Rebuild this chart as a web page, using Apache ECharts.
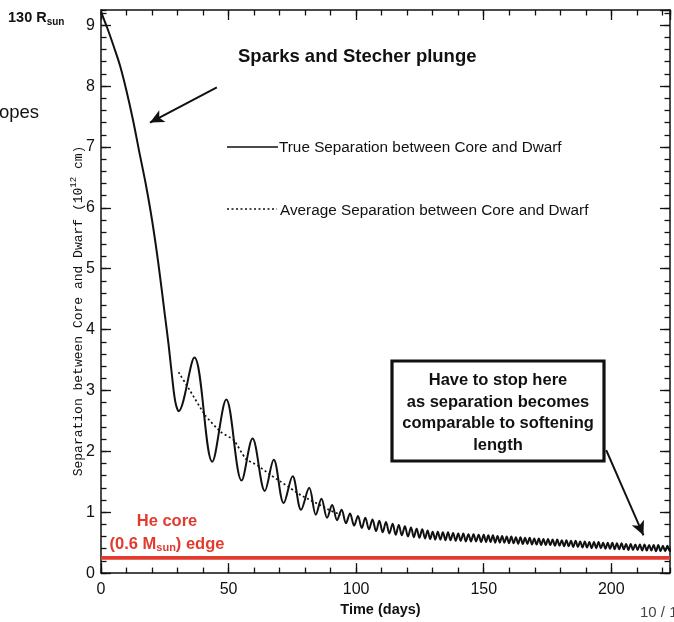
<!DOCTYPE html>
<html><head><meta charset="utf-8">
<script src="https://cdn.jsdelivr.net/npm/echarts@6/dist/echarts.min.js"></script>
<style>html,body{margin:0;padding:0;background:#fff}#c{width:674px;height:622px}</style>
</head><body><div id="c"></div>
<script>
// ---- data ----
const xTickValues = [0, 50, 100, 150, 200];
const xTickLabels = ['0', '50', '100', '150', '200'];
const yTickValues = [0, 1, 2, 3, 4, 5, 6, 7, 8, 9];
const yTickLabels = ['0', '1', '2', '3', '4', '5', '6', '7', '8', '9'];

// True separation: initial plunge
const tDrop = [0, 2.5, 5, 7.5, 10, 12.5, 15, 17.5, 20, 22.5, 25, 26.5, 27.8, 29.1];
const vDrop = [9.22, 8.95, 8.65, 8.33, 7.92, 7.45, 6.92, 6.40, 5.80, 5.08, 4.25, 3.75, 3.25, 2.82];
// True separation: oscillation extrema (min / max)
const tWave = [30.4, 36.6, 43.6, 49.1, 55.1, 59.4, 64.2, 67.7, 71.6, 75.1, 78.4, 81.6, 84.2, 86.4, 88.6, 90.6, 92.5, 94.3, 96.0, 97.6, 99.2,
  100.7, 102.2, 103.6, 105.0, 106.4, 107.8, 109.1, 110.4, 111.7, 113.0, 114.3, 115.5, 116.7, 117.9, 119.1, 120.3, 121.5, 122.6, 123.7, 124.8, 125.9, 127.0, 128.0, 129.0, 130.0,
  131, 132, 133, 134, 135, 136, 137, 138, 139, 140, 141, 142, 143, 144, 145, 146, 147, 148, 149, 150];
const vWave = [2.66, 3.54, 1.83, 2.85, 1.52, 2.21, 1.35, 1.86, 1.15, 1.59, 1.04, 1.40, 0.96, 1.22, 0.91, 1.12, 0.87, 1.04, 0.82, 0.98, 0.78,
  0.94, 0.74, 0.91, 0.72, 0.88, 0.69, 0.86, 0.67, 0.84, 0.65, 0.81, 0.63, 0.79, 0.62, 0.77, 0.60, 0.75, 0.59, 0.73, 0.58, 0.72, 0.57, 0.70, 0.56, 0.68,
  0.55, 0.68, 0.55, 0.67, 0.54, 0.67, 0.54, 0.66, 0.53, 0.65, 0.53, 0.65, 0.52, 0.64, 0.52, 0.64, 0.52, 0.63, 0.51, 0.63];
// True separation: dense late oscillation
const tDense = [150.9, 151.8, 152.7, 153.6, 154.5, 155.4, 156.3, 157.2, 158.1, 159, 159.9, 160.8, 161.7, 162.6, 163.5, 164.4, 165.3, 166.2, 167.1, 168,
  168.9, 169.8, 170.7, 171.6, 172.5, 173.4, 174.3, 175.2, 176.1, 177, 177.9, 178.8, 179.7, 180.6, 181.5, 182.4, 183.3, 184.2, 185.1, 186,
  186.9, 187.8, 188.7, 189.6, 190.5, 191.4, 192.3, 193.2, 194.1, 195, 195.9, 196.8, 197.7, 198.6, 199.5, 200.4, 201.3, 202.2, 203.1, 204,
  204.9, 205.8, 206.7, 207.6, 208.5, 209.4, 210.3, 211.2, 212.1, 213, 213.9, 214.8, 215.7, 216.6, 217.5, 218.4, 219.3, 220.2, 221.1, 222, 222.9, 223.8];
const vDense = [0.51, 0.62, 0.51, 0.62, 0.50, 0.61, 0.50, 0.61, 0.50, 0.60, 0.49, 0.60, 0.49, 0.59, 0.48, 0.59, 0.48, 0.58, 0.48, 0.58,
  0.47, 0.57, 0.47, 0.57, 0.46, 0.56, 0.46, 0.56, 0.46, 0.55, 0.45, 0.55, 0.45, 0.54, 0.44, 0.54, 0.44, 0.53, 0.43, 0.53,
  0.43, 0.52, 0.42, 0.52, 0.42, 0.51, 0.41, 0.51, 0.41, 0.51, 0.41, 0.50, 0.40, 0.50, 0.40, 0.50, 0.39, 0.49, 0.39, 0.49,
  0.39, 0.48, 0.38, 0.48, 0.38, 0.47, 0.38, 0.47, 0.37, 0.47, 0.37, 0.46, 0.37, 0.46, 0.36, 0.46, 0.36, 0.45, 0.36, 0.45, 0.36, 0.45];

// Average separation (dotted)
const tAvg = [30.4, 35, 40.9, 46.9, 52.1, 56.7, 61.3, 66.5, 70.5, 74.4, 78.3, 82, 86.2, 90.2, 94];
const vAvg = [3.30, 2.99, 2.59, 2.32, 2.18, 1.88, 1.77, 1.61, 1.50, 1.39, 1.28, 1.20, 1.11, 1.02, 0.96];

// He core edge (red)
const tCore = [0, 223];
const vCore = [0.25, 0.25];

// annotation arrows (data coordinates: [day, separation])
const arrowPlunge = [[45.4, 7.98], [19.2, 7.40]];
const arrowStop = [[198.0, 2.02], [212.6, 0.62]];

// ---- chart ----
const X_MIN = 0, X_MAX = 223, Y_MIN = 0, Y_MAX = 9.25;
const INK = '#111';
const SANS = '"Liberation Sans", Arial, Helvetica, sans-serif';
const MONO = '"Liberation Mono", "Courier New", monospace';
const RED = '#e23b2e';

const pairs = (t, v) => t.map((x, i) => [x, v[i]]);
const trueData = pairs(tDrop.concat(tWave, tDense), vDrop.concat(vWave, vDense));

function xAx(interval, position, major) {
  return {
    type: 'value', min: X_MIN, max: X_MAX, interval: interval, position: position,
    axisLine: { show: major, onZero: false, lineStyle: { color: INK, width: 1.5 } },
    axisTick: { show: true, inside: true, length: major ? 10 : 5.5, lineStyle: { color: INK, width: 1.3 } },
    axisLabel: (major && position === 'bottom') ? {
      show: true, margin: 8, fontSize: 16, color: INK, fontFamily: SANS, showMaxLabel: false,
      formatter: v => { const i = xTickValues.indexOf(v); return i >= 0 ? xTickLabels[i] : ''; }
    } : { show: false },
    splitLine: { show: false }
  };
}
function yAx(interval, position, major) {
  return {
    type: 'value', min: Y_MIN, max: Y_MAX, interval: interval, position: position,
    axisLine: { show: major, onZero: false, lineStyle: { color: INK, width: 1.5 } },
    axisTick: { show: true, inside: true, length: major ? 10 : 5.5, lineStyle: { color: INK, width: 1.3 } },
    axisLabel: (major && position === 'left') ? {
      show: true, margin: 6, fontSize: 16, color: INK, fontFamily: SANS, showMaxLabel: false,
      formatter: v => { const i = yTickValues.indexOf(v); return i >= 0 ? yTickLabels[i] : ''; }
    } : { show: false },
    splitLine: { show: false }
  };
}

const chart = echarts.init(document.getElementById('c'), null, { renderer: 'canvas' });
const xAxes = [xAx(50, 'bottom', true), xAx(10, 'bottom', false), xAx(50, 'top', true), xAx(10, 'top', false)];
xAxes[0].name = 'Time (days)';
xAxes[0].nameLocation = 'middle';
xAxes[0].nameGap = 25;
xAxes[0].nameTextStyle = { fontSize: 14.5, fontWeight: 'bold', color: INK, fontFamily: SANS, padding: [0, 10, 0, 0] };

chart.setOption({
  animation: false,
  backgroundColor: '#fff',
  grid: { left: 101, right: 4, top: 10, bottom: 42, containLabel: false },
  xAxis: xAxes,
  yAxis: [yAx(1, 'left', true), yAx(0.2, 'left', false), yAx(1, 'right', true), yAx(0.2, 'right', false)],
  series: [
    {
      name: 'He core edge', type: 'line', data: pairs(tCore, vCore), showSymbol: false, silent: true,
      lineStyle: { color: RED, width: 3.6 }, z: 2
    },
    {
      name: 'True Separation between Core and Dwarf', type: 'line', data: trueData,
      showSymbol: false, silent: true, smooth: 0.35,
      lineStyle: { color: INK, width: 2 }, z: 3,
      markLine: {
        silent: true, symbol: ['none', 'arrow'], symbolSize: [10, 14], label: { show: false },
        lineStyle: { color: INK, width: 2, type: 'solid' },
        data: [
          [{ coord: arrowPlunge[0] }, { coord: arrowPlunge[1] }],
          [{ coord: arrowStop[0] }, { coord: arrowStop[1] }]
        ]
      }
    },
    {
      name: 'Average Separation between Core and Dwarf', type: 'line', data: pairs(tAvg, vAvg),
      showSymbol: false, silent: true, smooth: 0.2,
      lineStyle: { color: INK, width: 1.7, type: [2, 2.6] }, z: 3
    }
  ],
  graphic: [
    // y-axis title (typewriter font, rotated)
    {
      type: 'text', x: 77, y: 311, rotation: Math.PI / 2,
      style: {
        text: '{n|Separation between Core and Dwarf (10}{s|12}{n| cm)}',
        align: 'center', verticalAlign: 'middle', fill: INK,
        rich: {
          n: { fontFamily: MONO, fontSize: 13, lineHeight: 16, verticalAlign: 'bottom', fill: INK },
          s: { fontFamily: MONO, fontSize: 9, lineHeight: 8, verticalAlign: 'top', fill: INK }
        }
      }
    },
    // legend
    { type: 'line', shape: { x1: 227, y1: 147, x2: 278, y2: 147 }, style: { stroke: INK, lineWidth: 1.3 } },
    { type: 'text', x: 279, y: 148, style: { text: 'True Separation between Core and Dwarf', fontSize: 15.3, fontFamily: SANS, fill: INK, verticalAlign: 'middle' } },
    { type: 'line', shape: { x1: 227, y1: 209, x2: 277, y2: 209 }, style: { stroke: INK, lineWidth: 1.3, lineDash: [2, 2.5] } },
    { type: 'text', x: 280, y: 211, style: { text: 'Average Separation between Core and Dwarf', fontSize: 15.3, fontFamily: SANS, fill: INK, verticalAlign: 'middle' } },
    // plunge label
    { type: 'text', x: 238, y: 57, style: { text: 'Sparks and Stecher plunge', fontSize: 18.5, fontWeight: 'bold', fontFamily: SANS, fill: INK, verticalAlign: 'middle' } },
    // stop box
    { type: 'rect', shape: { x: 392, y: 361, width: 212, height: 100 }, style: { fill: '#fff', stroke: INK, lineWidth: 3.2 }, z: 10 },
    {
      type: 'text', x: 498, y: 413, z: 11,
      style: {
        text: 'Have to stop here\nas separation becomes\ncomparable to softening\nlength',
        fontSize: 16.5, fontWeight: 'bold', fontFamily: SANS, fill: INK, lineHeight: 21.5, align: 'center', verticalAlign: 'middle'
      }
    },
    // He core label
    { type: 'text', x: 167, y: 521, style: { text: 'He core', fontSize: 16.5, fontWeight: 'bold', fontFamily: SANS, fill: RED, align: 'center', verticalAlign: 'middle' } },
    {
      type: 'text', x: 167, y: 544,
      style: {
        text: '{m|(0.6 M}{s|sun}{m|) edge}', align: 'center', verticalAlign: 'middle', fill: RED,
        rich: {
          m: { fontSize: 16.5, fontWeight: 'bold', fontFamily: SANS, fill: RED, lineHeight: 19, verticalAlign: 'middle' },
          s: { fontSize: 11, fontWeight: 'bold', fontFamily: SANS, fill: RED, lineHeight: 10, verticalAlign: 'bottom' }
        }
      }
    },
    // slide leftovers
    {
      type: 'text', x: 8, y: 18,
      style: {
        text: '{m|130 R}{s|sun}', verticalAlign: 'middle', fill: INK,
        rich: {
          m: { fontSize: 14.5, fontWeight: 'bold', fontFamily: SANS, fill: INK, lineHeight: 19, verticalAlign: 'middle' },
          s: { fontSize: 10, fontWeight: 'bold', fontFamily: SANS, fill: INK, lineHeight: 10, verticalAlign: 'bottom' }
        }
      }
    },
    { type: 'text', x: -1, y: 113, style: { text: 'opes', fontSize: 18.5, fontFamily: SANS, fill: INK, verticalAlign: 'middle' } },
    { type: 'text', x: 640, y: 613, style: { text: '10 / 1', fontSize: 15, fontFamily: SANS, fill: '#444', verticalAlign: 'middle' } }
  ]
});
</script>
</body></html>
